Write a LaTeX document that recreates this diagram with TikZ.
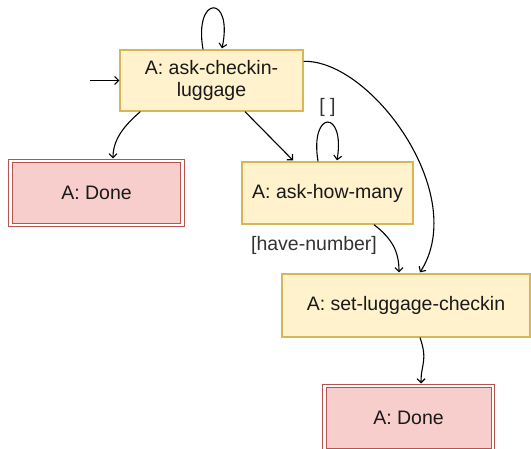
\documentclass[tikz,border=0pt]{standalone}
\usepackage{fontspec}
\setmainfont{Liberation Sans}
\usetikzlibrary{arrows.meta,calc}
\definecolor{ylwfill}{HTML}{FFF2CC}
\definecolor{ylwdraw}{HTML}{D6B656}
\definecolor{redfill}{HTML}{F8CECC}
\definecolor{reddraw}{HTML}{B85450}
\begin{document}
\begin{tikzpicture}[x=1pt,y=-1pt,
  every node/.style={font=\fontsize{19.5}{21.5}\selectfont, text=black!90},
  state/.style={draw=ylwdraw, fill=ylwfill, line width=1.3pt, inner sep=0pt, align=center},
  final/.style={draw=reddraw, fill=redfill, line width=1pt, double=white, double distance=2.5pt, inner sep=0pt, align=center},
  edge/.style={line width=1.1pt, -{Straight Barb[length=4pt,width=8pt,line width=1.1pt]}},
  lbl/.style={inner sep=1pt, text=black!80}]
\useasboundingbox (0,0) rectangle (531,449);

\node[state, minimum width=183pt, minimum height=61pt] (ack) at (211.5,80.5) {A: ask-checkin-\\luggage};
\node[final, minimum width=172pt, minimum height=64pt] (done1) at (96.5,193) {A: Done};
\node[state, minimum width=171pt, minimum height=62pt] (ahm) at (327.5,193) {A: ask-how-many};
\node[state, minimum width=248pt, minimum height=63pt] (set) at (406,305.5) {A: set-luggage-checkin};
\node[final, minimum width=168.5pt, minimum height=64pt] (done2) at (408.5,418) {A: Done};

\coordinate (start) at (90,80.5);
\draw[edge] (start) -- (ack.west);

% self loop on ask-checkin-luggage
\draw[edge] ([xshift=-8.5pt]ack.north) .. controls ([xshift=-18pt,yshift=55pt]ack.north) and ([xshift=22pt,yshift=55pt]ack.north) .. ([xshift=10.5pt,yshift=1pt]ack.north);

% ask -> done1
\draw[edge] ([xshift=21pt]ack.south west) .. controls ([xshift=6pt,yshift=-13pt]ack.south west) and ([xshift=16.5pt,yshift=22pt]done1.north) .. ([xshift=16.5pt,yshift=2pt]done1.north);

% ask -> ask-how-many
\draw[edge] ([xshift=33.5pt]ack.south) -- ([xshift=-34.5pt,yshift=1pt]ahm.north);

% ask -> set
\draw[edge] ([yshift=-12pt]ack.north east) .. controls ([xshift=67pt,yshift=-10pt]ack.north east) and ([xshift=64pt,yshift=79pt]set.north) .. ([xshift=14pt,yshift=1pt]set.north);

% self loop on ask-how-many
\draw[edge] ([xshift=-9.5pt]ahm.north) .. controls ([xshift=-18pt,yshift=52pt]ahm.north) and ([xshift=18pt,yshift=52pt]ahm.north) .. ([xshift=9.5pt,yshift=1pt]ahm.north);
\node[lbl] (l1) at (327.5,107) {[ ]};

% ask-how-many -> set
\draw[edge] ([xshift=46.5pt]ahm.south) .. controls ([xshift=64.5pt,yshift=-14pt]ahm.south) and ([xshift=-7pt,yshift=22pt]set.north) .. ([xshift=-7pt,yshift=1pt]set.north);
\node[lbl] (l2) at (314,245) {[have-number]};

% set -> done2
\draw[edge] ([xshift=14pt]set.south) .. controls ([xshift=22pt,yshift=-23pt]set.south) and ([xshift=12.5pt,yshift=22pt]done2.north) .. ([xshift=12.5pt,yshift=2pt]done2.north);
\end{tikzpicture}
\end{document}
